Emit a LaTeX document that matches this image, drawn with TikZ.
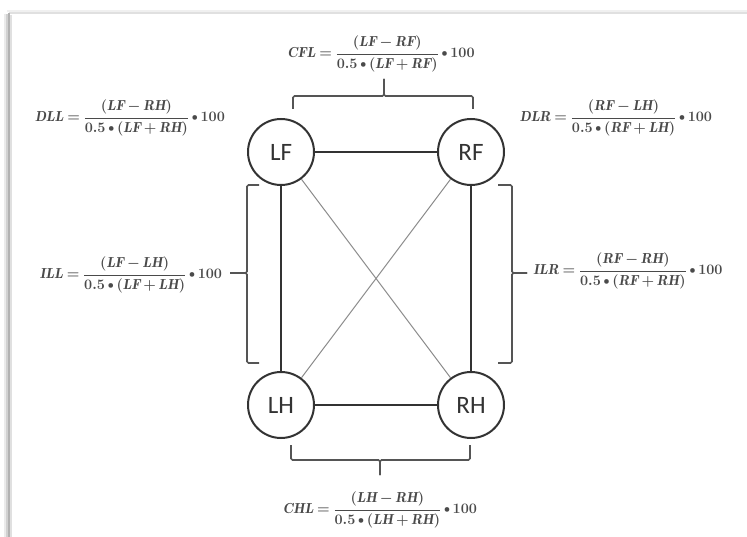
\documentclass[tikz,border=0pt]{standalone}
\usepackage{fontspec}
\usepackage{amsmath}
\usepackage{graphicx}
\newfontfamily\labelfont{Carlito}
\definecolor{ink}{HTML}{333333}
\definecolor{formulaink}{HTML}{4A4A4A}
\definecolor{bracegray}{HTML}{555555}
\definecolor{diaggray}{HTML}{8C8C8C}
\newcommand{\tm}{\mathbin{\vcenter{\hbox{\scalebox{0.72}{$\bullet$}}}}}
\newcommand{\tightmath}{\thickmuskip=4mu plus 2mu\medmuskip=3mu plus 1mu}
\tikzset{
  limb/.style={circle, draw=ink, line width=2pt, minimum size=66pt, inner sep=0pt,
               font=\labelfont\fontsize{25}{27}\selectfont, text=ink},
  side/.style={draw=ink, line width=2pt},
  diag/.style={draw=diaggray, line width=1pt},
  bracket/.style={draw=bracegray, line width=1.6pt, rounded corners=1.5pt},
  formula/.style={text=formulaink, inner sep=0pt,
                  font=\fontsize{14.5}{16}\selectfont\boldmath\tightmath},
  pageedge/.style={line width=1.2pt}
}
\begin{document}
\begin{tikzpicture}[x=1pt,y=-1pt]
  \useasboundingbox (0,0) rectangle (747,537);
  \fill[white] (0,0) rectangle (747,537);

  % soft page edge along the top and left
  \draw[pageedge, black!6] (7,11) -- (747,11);
  \draw[pageedge, black!12] (9,13) -- (747,13);
  \draw[pageedge, black!8] (5,14) -- (5,537);
  \draw[pageedge, black!18] (7,14) -- (7,537);
  \draw[pageedge, black!30] (9,13) -- (9,537);
  \draw[pageedge, black!12] (11,15) -- (11,537);

  % the four limbs
  \node[limb] (LF) at (281,152) {LF};
  \node[limb] (RF) at (471,152) {RF};
  \node[limb] (LH) at (281,405) {LH};
  \node[limb] (RH) at (471,405) {RH};

  % sides of the square
  \draw[side] (LF) -- (RF);
  \draw[side] (LH) -- (RH);
  \draw[side] (LF) -- (LH);
  \draw[side] (RF) -- (RH);

  % diagonals
  \draw[diag] (LF) -- (RH);
  \draw[diag] (RF) -- (LH);

  % brackets
  \draw[bracket] (293,109) -- (293,96) -- (384,96) -- (384,79);
  \draw[bracket] (384,79) -- (384,96) -- (473,96) -- (473,109);
  \draw[bracket] (291,445) -- (291,460) -- (380,460) -- (380,475);
  \draw[bracket] (380,475) -- (380,460) -- (470,460) -- (470,445);
  \draw[bracket] (259,185) -- (247,185) -- (247,273) -- (230,273);
  \draw[bracket] (230,273) -- (247,273) -- (247,363) -- (259,363);
  \draw[bracket] (498,185) -- (512,185) -- (512,273) -- (527,273);
  \draw[bracket] (527,273) -- (512,273) -- (512,363) -- (498,363);

  % symmetry indices
  \node[formula] (CFL) at (381,54)
    {$\mathit{CFL}=\dfrac{(\mathit{LF}-\mathit{RF})}{0.5\tm(\mathit{LF}+\mathit{RF})}\tm 100$};
  \node[formula] (DLL) at (130,118)
    {$\mathit{DLL}=\dfrac{(\mathit{LF}-\mathit{RH})}{0.5\tm(\mathit{LF}+\mathit{RH})}\tm 100$};
  \node[formula] (DLR) at (616,118)
    {$\mathit{DLR}=\dfrac{(\mathit{RF}-\mathit{LH})}{0.5\tm(\mathit{RF}+\mathit{LH})}\tm 100$};
  \node[formula] (ILL) at (131,275)
    {$\mathit{ILL}=\dfrac{(\mathit{LF}-\mathit{LH})}{0.5\tm(\mathit{LF}+\mathit{LH})}\tm 100$};
  \node[formula] (ILR) at (628,271)
    {$\mathit{ILR}=\dfrac{(\mathit{RF}-\mathit{RH})}{0.5\tm(\mathit{RF}+\mathit{RH})}\tm 100$};
  \node[formula] (CHL) at (380,510)
    {$\mathit{CHL}=\dfrac{(\mathit{LH}-\mathit{RH})}{0.5\tm(\mathit{LH}+\mathit{RH})}\tm 100$};
\end{tikzpicture}
\end{document}
